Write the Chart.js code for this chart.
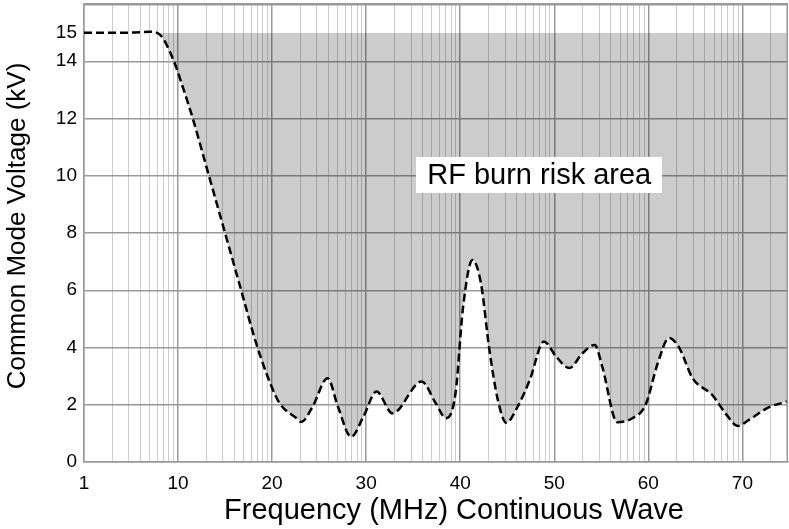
<!DOCTYPE html>
<html>
<head>
<meta charset="utf-8">
<script src="https://cdn.jsdelivr.net/npm/chart.js@4.4.1/dist/chart.umd.min.js"></script>
<style>
  html, body { margin: 0; padding: 0; background: #fff; }
  #wrap { width: 789px; height: 529px; }
</style>
</head>
<body>
<div id="wrap"><canvas id="c" width="789" height="529"></canvas></div>
<script>
// ---- data ----
const freqMHz = [1, 3, 5.0, 6.4, 8.9, 10.5, 11.6, 13.0, 14.8, 16.6, 18.3, 19.8, 20.8, 22.6, 23.1,
  24.3, 25.9, 27.0, 28.4, 29.7, 31.1, 32.8, 35.9, 37.4, 38.5, 39.5, 40.3, 41.3, 42.2, 43.1,
  44.0, 44.9, 46.1, 47.4, 48.9, 50.2, 51.6, 53.0, 54.3, 55.1, 56.7, 58.3, 59.7, 61.0, 62.2,
  63.3, 64.7, 66.8, 68.2, 69.5, 70.7, 72.8, 74.85];
const voltageKV = [15.0, 15.0, 15.03, 14.93, 14.05, 13.1, 11.96, 10.33, 8.23, 6.13, 4.15, 2.75, 2.05, 1.53, 1.40,
  1.93, 2.93, 1.93, 0.88, 1.58, 2.46, 1.70, 2.81, 2.05, 1.53, 2.4, 5.4, 7.06, 6.25, 3.92,
  2.17, 1.37, 1.93, 2.87, 4.21, 3.68, 3.28, 3.80, 4.09, 3.33, 1.39, 1.53, 1.99, 3.45, 4.33,
  3.98, 2.93, 2.34, 1.70, 1.26, 1.47, 1.91, 2.12];
const riskLimitKV = 15;
const xTickLabels = ['1', '10', '20', '30', '40', '50', '60', '70'];
const yTickValues = [0, 2, 4, 6, 8, 10, 12, 14, 15];
const xMaxMHz = 74.85;
const yMaxKV = 16;
const areaLabel = 'RF burn risk area';
const areaLabelAt = { f: 48.4, v: 10.03 };
const xTitle = 'Frequency (MHz) Continuous Wave';
const yTitle = 'Common Mode Voltage (kV)';

// axis position: first cycle 1..10 logarithmic, then one cycle per 10 MHz
function toAxis(f) { return f <= 10 ? Math.log10(f) : f / 10; }

const FONT = "'Liberation Sans', Arial, Helvetica, sans-serif";
const xGridPositions = [];
const xMax = toAxis(xMaxMHz);
for (let k = 0; k < xTickLabels.length; k++) {
  for (let m = 1; m <= 9; m++) {
    const p = k + Math.log10(m);
    if (p <= xMax) xGridPositions.push(p);
  }
}
const isMajor = v => Math.abs(v - Math.round(v)) < 1e-9;
const noPad = s => { s.paddingTop = 0; s.paddingBottom = 0; s.paddingLeft = 0; s.paddingRight = 0; };

const extrasPlugin = {
  id: 'extras',
  beforeDraw(chart) {
    // nudge the axis titles to where the reference has them
    const shift = (scale, dx, dy) => {
      if (scale._shifted) return;
      const orig = scale.drawTitle.bind(scale);
      scale.drawTitle = function () {
        const ctx = this.ctx; ctx.save(); ctx.translate(dx, dy); orig(); ctx.restore();
      };
      scale._shifted = true;
    };
    shift(chart.scales.x, 18, 0);
    shift(chart.scales.y, 0, -7);
  },
  afterDatasetsDraw(chart) {
    const { ctx, chartArea: a, scales } = chart;
    ctx.save();
    ctx.strokeStyle = '#999';
    ctx.lineWidth = 1.5;
    ctx.beginPath();
    ctx.moveTo(a.left, a.top + 0.75); ctx.lineTo(a.right - 0.75, a.top + 0.75); ctx.lineTo(a.right - 0.75, a.bottom);
    ctx.stroke();
    const cx = scales.x.getPixelForValue(toAxis(areaLabelAt.f));
    const cy = scales.y.getPixelForValue(areaLabelAt.v);
    ctx.font = '29px ' + FONT;
    const w = ctx.measureText(areaLabel).width;
    ctx.fillStyle = '#fff';
    ctx.fillRect(Math.round(cx - w / 2 - 11), Math.round(cy - 18), Math.round(w + 22), 36);
    ctx.fillStyle = '#000';
    ctx.textAlign = 'center';
    ctx.textBaseline = 'middle';
    ctx.fillText(areaLabel, cx, cy + 1);
    ctx.restore();
  }
};

new Chart(document.getElementById('c'), {
  type: 'line',
  data: {
    datasets: [{
      data: freqMHz.map((f, i) => ({ x: toAxis(f), y: voltageKV[i] })),
      borderColor: '#000',
      borderWidth: 2.5,
      borderDash: [8, 4],
      pointRadius: 0,
      cubicInterpolationMode: 'monotone',
      fill: { target: { value: riskLimitKV }, above: 'rgba(0,0,0,0)', below: 'rgba(0,0,0,0.2)' }
    }]
  },
  options: {
    responsive: false,
    animation: false,
    layout: { padding: { top: 4, right: 1, left: 0, bottom: 0 } },
    plugins: { legend: { display: false }, tooltip: { enabled: false } },
    scales: {
      x: {
        type: 'linear', min: 0, max: xMax,
        afterBuildTicks: s => { s.ticks = xGridPositions.map(v => ({ value: v })); },
        afterFit: s => { s.height = 67; noPad(s); },
        ticks: {
          autoSkip: false, maxRotation: 0, padding: 10, color: '#000',
          font: { family: FONT, size: 19 },
          callback: v => isMajor(v) ? xTickLabels[Math.round(v)] : ''
        },
        grid: {
          drawTicks: false,
          color: c => isMajor(c.tick.value) ? '#999' : '#ccc',
          lineWidth: c => isMajor(c.tick.value) ? 1.5 : 1
        },
        border: { color: '#999', width: 1.5 },
        title: {
          display: true, text: xTitle, color: '#000',
          font: { family: FONT, size: 29, lineHeight: 1.2 },
          padding: { top: 0, bottom: 1 }
        }
      },
      y: {
        type: 'linear', min: 0, max: yMaxKV,
        afterBuildTicks: s => { s.ticks = yTickValues.concat([yMaxKV]).map(v => ({ value: v })); },
        afterFit: s => { s.width = 84; noPad(s); },
        ticks: {
          padding: 7, color: '#000',
          font: { family: FONT, size: 19 },
          callback: v => v === yMaxKV ? '' : String(v)
        },
        grid: {
          drawTicks: false,
          color: c => c.tick.value === riskLimitKV ? 'rgba(0,0,0,0)' : '#999',
          lineWidth: 1.5
        },
        border: { color: '#999', width: 1.5 },
        title: {
          display: true, text: yTitle, color: '#000',
          font: { family: FONT, size: 26, lineHeight: 1.2 },
          padding: { top: 2, bottom: 0 }
        }
      }
    }
  },
  plugins: [extrasPlugin]
});
</script>
</body>
</html>
